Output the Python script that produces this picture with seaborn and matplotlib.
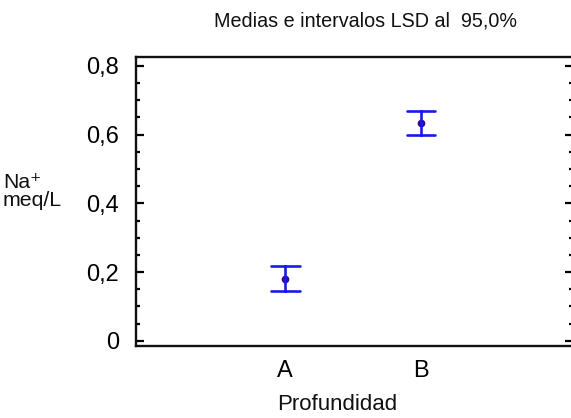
import matplotlib
matplotlib.use("Agg")
import matplotlib.pyplot as plt
import seaborn as sns
import pandas as pd
from matplotlib.ticker import MultipleLocator, FixedLocator, FixedFormatter

# Means and LSD 95% interval bounds for each depth group
groups = ["A", "B"]
means = [0.180, 0.633]
lower = [0.146, 0.600]
upper = [0.217, 0.670]

y_ticks = [0, 0.2, 0.4, 0.6, 0.8]
y_tick_labels = ["0", "0,2", "0,4", "0,6", "0,8"]

rows = []
for g, lo, m, hi in zip(groups, lower, means, upper):
    for v in (lo, m, hi):
        rows.append({"Profundidad": g, "valor": v})
df = pd.DataFrame(rows)

sns.set_theme(style="white")
plt.rcParams["font.family"] = ["Liberation Sans", "DejaVu Sans"]

fig = plt.figure(figsize=(5.71, 4.18), dpi=100)
ax = fig.add_axes([136 / 571, 1 - 346 / 418, 437 / 571, (346 - 57) / 418])

blue = "#1a1ae6"
sns.pointplot(
    data=df, x="Profundidad", y="valor", order=groups,
    estimator="median",
    errorbar=lambda v: (v.min(), v.max()),
    linestyle="none", color=blue, markers="o", markersize=3.5,
    capsize=0.21, err_kws={"linewidth": 1.9, "color": blue},
    ax=ax,
)
# darker centre dot
for ln in ax.lines:
    if ln.get_marker() not in (None, "None", "", " "):
        ln.set_markerfacecolor("#300a80")
        ln.set_markeredgecolor("#300a80")

ax.set_xlim(-1.1, 2.12)
ax.set_ylim(-0.015, 0.826)

ax.yaxis.set_major_locator(FixedLocator(y_ticks))
ax.yaxis.set_major_formatter(FixedFormatter(y_tick_labels))
ax.yaxis.set_minor_locator(MultipleLocator(0.05))
ax.tick_params(axis="y", which="both", direction="in", left=True, right=True,
               colors="black", labelsize=17, pad=12)
ax.tick_params(axis="y", which="major", length=6, width=1.6)
ax.tick_params(axis="y", which="minor", length=3, width=1.6)
ax.tick_params(axis="x", which="both", bottom=False, top=False,
               labelsize=17, pad=4, colors="black")

for s in ax.spines.values():
    s.set_visible(True)
    s.set_color("#111111")
    s.set_linewidth(1.7)

ax.set_xlabel("")
ax.set_ylabel("")

fig.text(365 / 571, 1 - 21 / 418, "Medias e intervalos LSD al  95,0%",
         ha="center", va="center", fontsize=14.2, color="#111111")
fig.text(337 / 571, 1 - 405 / 418, "Profundidad",
         ha="center", va="center", fontsize=16, color="#111111")
fig.text(3 / 571, 1 - 183 / 418, "Na\u207a", ha="left", va="center",
         fontsize=15.3, color="#111111")
fig.text(3 / 571, 1 - 201 / 418, "meq/L", ha="left", va="center",
         fontsize=15.3, color="#111111")

fig.savefig("out.png", dpi=100)
